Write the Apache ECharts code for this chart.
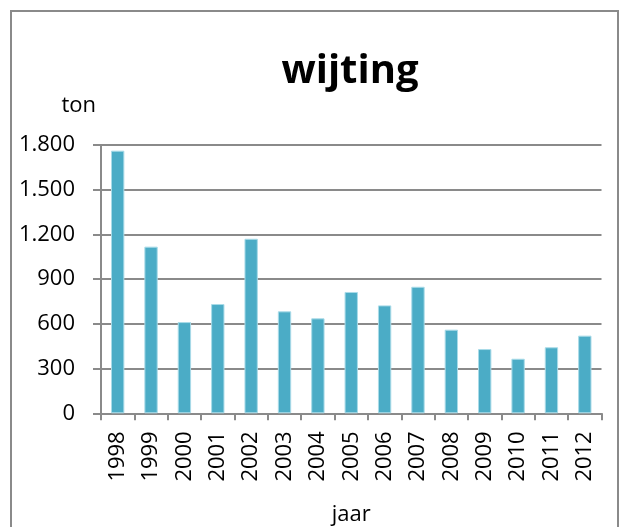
<!DOCTYPE html>
<html><head><meta charset="utf-8">
<script src="https://cdn.jsdelivr.net/npm/echarts@6/dist/echarts.min.js"></script>
<style>html,body{margin:0;padding:0;background:#fff}#c{width:622px;height:527px}</style>
</head><body><div id="c"></div>
<script>
const years = ['1998','1999','2000','2001','2002','2003','2004','2005','2006','2007','2008','2009','2010','2011','2012'];
const tons = [1762,1118,612,733,1171,684,637,814,724,849,561,431,366,443,521];
const yTicks = {min:0, max:1800, interval:300};
const titleText = 'wijting';
const yName = 'ton';
const xName = 'jaar';

const FONT = '"Open Sans", sans-serif';
const GRAY = '#8a8a8a';
const chart = echarts.init(document.getElementById('c'), null, {renderer:'canvas'});
chart.setOption({
  animation:false,
  backgroundColor:'#fff',
  graphic:[{type:'rect', shape:{x:11,y:11,width:607,height:530}, style:{fill:'none', stroke:GRAY, lineWidth:2}, silent:true}],
  title:{text:titleText, left:345, top:47, textAlign:'center',
    textStyle:{fontFamily:FONT, fontWeight:'bold', fontSize:40, color:'#000'}},
  grid:{left:101, right:20.5, top:145, bottom:113.7, outerBoundsMode:'none', containLabel:false},
  xAxis:{type:'category', data:years, name:xName, nameLocation:'middle', nameGap:90,
    nameTextStyle:{fontFamily:FONT, fontSize:22, color:'#000'},
    axisLine:{lineStyle:{color:GRAY, width:2}},
    axisTick:{show:true, length:7, lineStyle:{color:GRAY, width:2}},
    axisLabel:{rotate:90, margin:18, fontFamily:FONT, fontSize:22, color:'#000'}},
  yAxis:{type:'value', min:yTicks.min, max:yTicks.max, interval:yTicks.interval,
    name:yName, nameLocation:'end', nameGap:28,
    nameTextStyle:{fontFamily:FONT, fontSize:22, color:'#000', align:'right', padding:[0,5,0,0]},
    axisLine:{show:true, lineStyle:{color:GRAY, width:2}},
    axisTick:{show:true, length:8, lineStyle:{color:GRAY, width:2}},
    splitLine:{lineStyle:{color:GRAY, width:2}},
    axisLabel:{margin:26, fontFamily:FONT, fontSize:22, color:'#000',
      formatter:v=>v.toLocaleString('de-DE')}},
  series:[{type:'bar', data:tons, barWidth:'40%',
    itemStyle:{color:'#4BACC6', borderColor:'#a9dbe8', borderWidth:1}}]
});
</script></body></html>
